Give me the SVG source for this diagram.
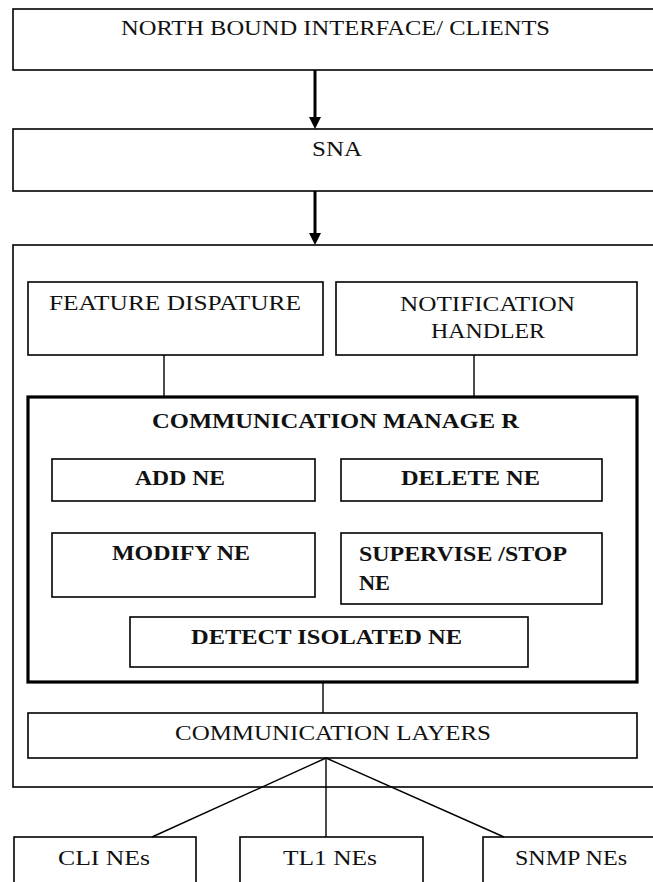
<svg xmlns="http://www.w3.org/2000/svg" width="653" height="882" viewBox="0 0 653 882">
<style>
.box{fill:#fff;stroke:#000;stroke-width:1.6}
.thick{fill:#fff;stroke:#000;stroke-width:3.2}
.t{font-family:"Liberation Serif","Times New Roman",serif;font-size:20.5px;fill:#111}
.b{font-weight:bold}
.c{stroke:#000;stroke-width:1.4;fill:none}
.arr{stroke:#000;stroke-width:3;fill:none}
</style>
<defs>
<marker id="ah" markerWidth="5" markerHeight="5" refX="0" refY="2" orient="auto" markerUnits="strokeWidth">
<path d="M0,0 L4,2 L0,4 Z" fill="#000"/>
</marker>
</defs>
<rect width="653" height="882" fill="#fff"/>
<g id="nbi"><rect class="box" x="13" y="9" width="660" height="61"/>
<text class="t" x="121" y="35" textLength="429" lengthAdjust="spacingAndGlyphs">NORTH BOUND INTERFACE/ CLIENTS</text></g>
<g id="sna"><rect class="box" x="13" y="129" width="660" height="62"/>
<text class="t" x="312" y="156" textLength="50" lengthAdjust="spacingAndGlyphs">SNA</text></g>
<g id="container"><rect class="box" x="13" y="245" width="660" height="542"/></g>
<g id="feature"><rect class="box" x="28" y="282" width="295" height="73"/>
<text class="t" x="49" y="310" textLength="252" lengthAdjust="spacingAndGlyphs">FEATURE DISPATURE</text></g>
<g id="notification"><rect class="box" x="336" y="282" width="301" height="73"/>
<text class="t" x="400" y="311" textLength="175" lengthAdjust="spacingAndGlyphs">NOTIFICATION</text>
<text class="t" x="431" y="338" textLength="114" lengthAdjust="spacingAndGlyphs">HANDLER</text></g>
<g id="commmanager"><rect class="thick" x="28" y="397" width="609" height="285"/>
<text class="t b" x="152" y="428" textLength="367" lengthAdjust="spacingAndGlyphs">COMMUNICATION MANAGE R</text></g>
<g id="addne"><rect class="box" x="52" y="459" width="263" height="42"/>
<text class="t b" x="135" y="485" textLength="90" lengthAdjust="spacingAndGlyphs">ADD NE</text></g>
<g id="deletene"><rect class="box" x="341" y="459" width="261" height="42"/>
<text class="t b" x="401" y="485" textLength="139" lengthAdjust="spacingAndGlyphs">DELETE  NE</text></g>
<g id="modifyne"><rect class="box" x="52" y="533" width="263" height="64"/>
<text class="t b" x="112" y="560" textLength="138" lengthAdjust="spacingAndGlyphs">MODIFY NE</text></g>
<g id="supervise"><rect class="box" x="341" y="533" width="261" height="71"/>
<text class="t b" x="359" y="561" textLength="208" lengthAdjust="spacingAndGlyphs">SUPERVISE /STOP</text>
<text class="t b" x="359" y="590" textLength="31" lengthAdjust="spacingAndGlyphs">NE</text></g>
<g id="detect"><rect class="box" x="130" y="617" width="398" height="50"/>
<text class="t b" x="191" y="644" textLength="271" lengthAdjust="spacingAndGlyphs">DETECT ISOLATED NE</text></g>
<g id="layers"><rect class="box" x="28" y="713" width="609" height="45"/>
<text class="t" x="175" y="740" textLength="316" lengthAdjust="spacingAndGlyphs">COMMUNICATION LAYERS</text></g>
<g id="cli"><rect class="box" x="14" y="837" width="182" height="60"/>
<text class="t" x="58" y="865" textLength="92" lengthAdjust="spacingAndGlyphs">CLI NEs</text></g>
<g id="tl1"><rect class="box" x="240" y="837" width="183" height="60"/>
<text class="t" x="283" y="865" textLength="94" lengthAdjust="spacingAndGlyphs">TL1 NEs</text></g>
<g id="snmp"><rect class="box" x="483" y="837" width="190" height="60"/>
<text class="t" x="515" y="865" textLength="112" lengthAdjust="spacingAndGlyphs">SNMP NEs</text></g>
<g id="connectors">
<line class="arr" x1="315" y1="70" x2="315" y2="117" marker-end="url(#ah)"/>
<line class="arr" x1="315" y1="191" x2="315" y2="233" marker-end="url(#ah)"/>
<line class="c" x1="164" y1="355" x2="164" y2="397"/>
<line class="c" x1="474" y1="355" x2="474" y2="397"/>
<line class="c" x1="323" y1="682" x2="323" y2="713"/>
<line class="c" x1="326" y1="758" x2="152" y2="837"/>
<line class="c" x1="326" y1="758" x2="326" y2="837"/>
<line class="c" x1="326" y1="758" x2="504" y2="837"/>
</g>
</svg>
